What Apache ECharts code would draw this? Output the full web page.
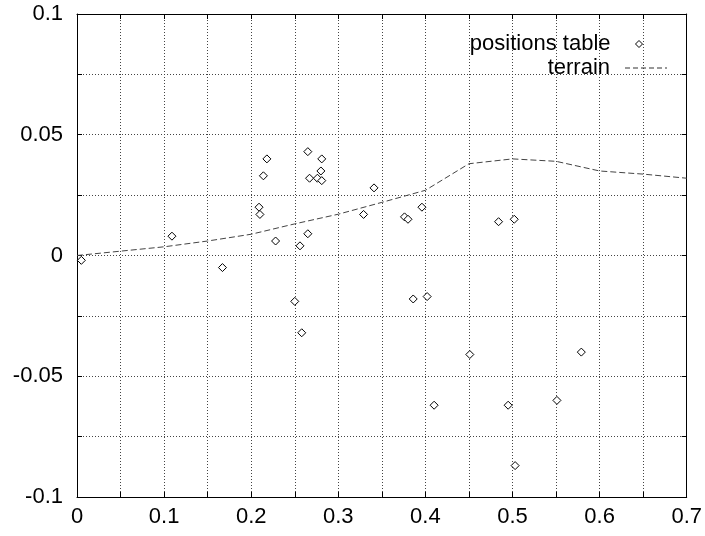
<!DOCTYPE html>
<html>
<head>
<meta charset="utf-8">
<script src="https://cdn.jsdelivr.net/npm/echarts@6/dist/echarts.min.js"></script>
<style>html,body{margin:0;padding:0;background:#fff}#c{width:705px;height:536px}</style>
</head>
<body>
<div id="c"></div>
<script>
var posX = [0.005, 0.109, 0.167, 0.218, 0.214, 0.209, 0.210, 0.228, 0.250, 0.258, 0.256, 0.265, 0.265, 0.267, 0.281, 0.280, 0.276, 0.281, 0.329, 0.341, 0.376, 0.380, 0.396, 0.386, 0.402, 0.410, 0.451, 0.484, 0.502, 0.495, 0.503, 0.551, 0.579];
var posY = [-0.002, 0.008, -0.005, 0.040, 0.033, 0.020, 0.017, 0.006, -0.019, -0.032, 0.004, 0.009, 0.043, 0.032, 0.040, 0.035, 0.032, 0.031, 0.017, 0.028, 0.016, 0.015, 0.020, -0.018, -0.017, -0.062, -0.041, 0.014, 0.015, -0.062, -0.087, -0.060, -0.040];
var terrainX = [0, 0.05, 0.1, 0.15, 0.2, 0.25, 0.3, 0.35, 0.4, 0.45, 0.5, 0.55, 0.6, 0.65, 0.7];
var terrainY = [0, 0.0018, 0.0036, 0.006, 0.0088, 0.0131, 0.0171, 0.022, 0.027, 0.038, 0.040, 0.039, 0.035, 0.0337, 0.032];
var xTicks = ['0', '0.1', '0.2', '0.3', '0.4', '0.5', '0.6', '0.7'];
var yTicks = ['-0.1', '-0.05', '0', '0.05', '0.1'];

var FONT = 'Liberation Sans';
var FS = 22;
var posData = posX.map(function (x, i) { return [x, posY[i]]; });
var terrainData = terrainX.map(function (x, i) { return [x, terrainY[i]]; });

function xFmt(v) {
  var k = Math.round(v * 20);
  if (k % 2 !== 0) return '';
  return xTicks[k / 2] || '';
}
function yFmt(v) {
  var k = Math.round(v * 40);
  if (k % 2 !== 0) return '';
  return yTicks[k / 2 + 2] || '';
}
var gridLine = { show: true, lineStyle: { color: '#444', width: 1, type: [1, 2] } };
function baseX(pos, labels) {
  return {
    type: 'value', min: 0, max: 0.7, interval: 0.05, position: pos,
    axisLine: { show: true, onZero: false, lineStyle: { color: '#000', width: 1 } },
    axisTick: { show: true, inside: true, length: 5, lineStyle: { color: '#000' } },
    axisLabel: { show: labels, formatter: xFmt, color: '#000', fontFamily: FONT, fontSize: FS, margin: 9 },
    splitLine: labels ? gridLine : { show: false }
  };
}
function baseY(pos, labels) {
  return {
    type: 'value', min: -0.1, max: 0.1, interval: 0.025, position: pos,
    axisLine: { show: true, onZero: false, lineStyle: { color: '#000', width: 1 } },
    axisTick: { show: true, inside: true, length: 5, lineStyle: { color: '#000' } },
    axisLabel: { show: labels, formatter: yFmt, color: '#000', fontFamily: FONT, fontSize: FS, margin: 14 },
    splitLine: labels ? gridLine : { show: false }
  };
}
var dashIcon = 'path://M0,0h5v1h-5z M8,0h5v1h-5z M16,0h5v1h-5z M24,0h5v1h-5z M32,0h5v1h-5z M40,0h2v1h-2z';
var chart = echarts.init(document.getElementById('c'), null, { renderer: 'canvas' });
chart.setOption({
  animation: false,
  backgroundColor: '#fff',
  grid: { left: 77, right: 17, top: 14, bottom: 39 },
  xAxis: [baseX('bottom', true), baseX('top', false)],
  yAxis: [baseY('left', true), baseY('right', false)],
  legend: [
    { data: [{ name: 'positions table', icon: 'diamond' }], orient: 'vertical', align: 'right', right: 62, top: 33, padding: 0,
      itemWidth: 7, itemHeight: 7, itemStyle: { color: '#fff', borderColor: '#000', borderWidth: 1 },
      textStyle: { fontFamily: FONT, fontSize: FS, color: '#000', padding: [0, 20, 0, 0] } },
    { data: [{ name: 'terrain', icon: dashIcon }], orient: 'vertical', align: 'right', right: 38, top: 57, padding: 0,
      itemWidth: 42, itemHeight: 1, itemStyle: { color: '#333', borderWidth: 0 },
      textStyle: { fontFamily: FONT, fontSize: FS, color: '#000', padding: [0, 10, 0, 0] } }
  ],
  series: [
    { name: 'positions table', type: 'scatter', data: posData, symbol: 'diamond', symbolSize: 8,
      itemStyle: { color: '#fff', borderColor: '#000', borderWidth: 1, opacity: 1 } },
    { name: 'terrain', type: 'line', data: terrainData, showSymbol: false, symbol: 'none', smooth: false,
      lineStyle: { color: '#444', width: 1, type: [6, 3] }, itemStyle: { color: '#444' } }
  ]
});
</script>
</body>
</html>
